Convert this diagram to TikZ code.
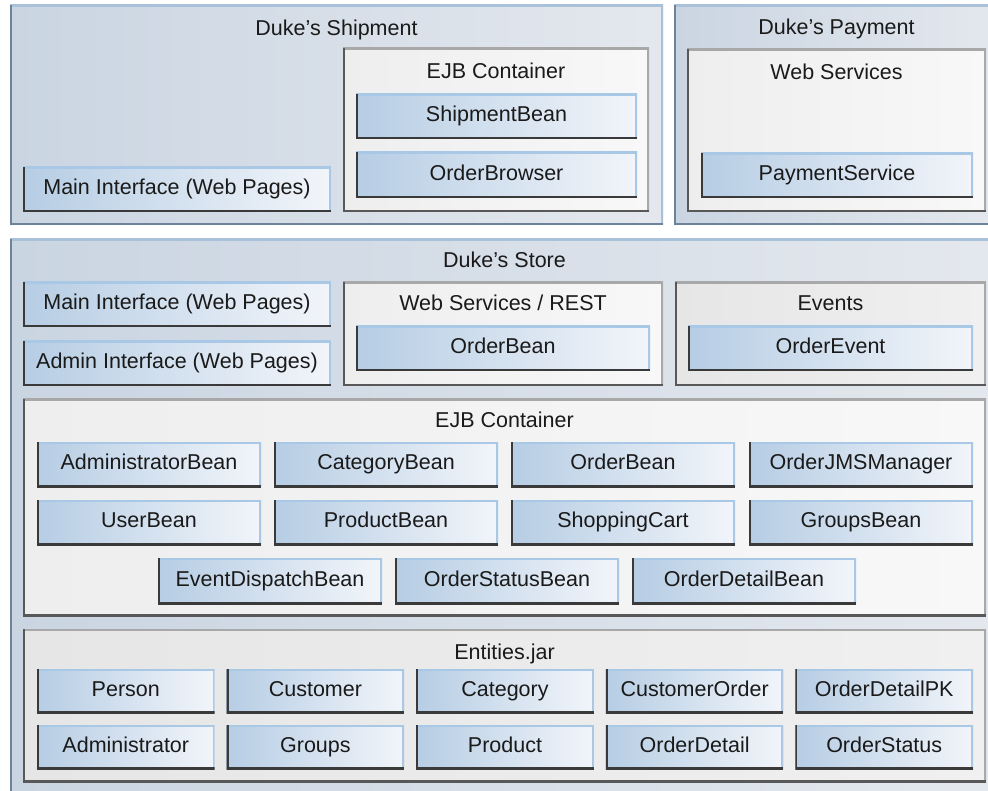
\documentclass[tikz,border=0pt]{standalone}
\usepackage{fontspec}
\setmainfont{Liberation Sans}
\definecolor{panelL}{HTML}{CAD5E2}
\definecolor{panelR}{HTML}{E4E8EE}
\definecolor{panelLt}{HTML}{A9C1D9}
\definecolor{panelDk}{HTML}{6E829C}
\definecolor{contL}{HTML}{EEEEEE}
\definecolor{contR}{HTML}{F8F8F8}
\definecolor{contGL}{HTML}{E6E6E6}
\definecolor{contGR}{HTML}{F0F0F0}
\definecolor{contLt}{HTML}{A8A8A8}
\definecolor{contDk}{HTML}{585858}
\definecolor{beanL}{HTML}{B6CDE4}
\definecolor{beanR}{HTML}{F2F5FA}
\definecolor{beanLt}{HTML}{A8C8E6}
\definecolor{beanDk}{HTML}{3A3A3A}
\definecolor{txt}{HTML}{1A1A1A}
\tikzset{
  bevel/.style 2 args={path picture={
    \draw[#1,line width=4pt] (path picture bounding box.north west) -- (path picture bounding box.north east) -- (path picture bounding box.south east);
    \draw[#2,line width=4pt] (path picture bounding box.north west) -- (path picture bounding box.south west) -- (path picture bounding box.south east);
  }},
  basebox/.style={rectangle,inner sep=0pt,outer sep=0pt,text=txt,
    font=\fontsize{21.5}{25}\selectfont,text height=15.5pt,text depth=5pt},
  panelbox/.style={basebox,left color=panelL,right color=panelR,bevel={panelLt}{panelDk}},
  contbox/.style={basebox,left color=contL,right color=contR,bevel={contLt}{contDk}},
  contgbox/.style={basebox,left color=contGL,right color=contGR,bevel={contLt}{contDk}},
  beanbox/.style={basebox,left color=beanL,right color=beanR,bevel={beanLt}{beanDk}},
  lbltext/.style={inner sep=0pt,text=txt,font=\fontsize{21.5}{25}\selectfont}
}
\newcommand\bx[7]{\node[#2,anchor=north west,minimum width=#5pt,minimum height=#6pt] (#1) at (#3pt,-#4pt) {#7};}
\newcommand\lbl[4]{\node[lbltext,anchor=base] (#1) at (#2pt,-#3pt) {#4};}
\begin{document}
\begin{tikzpicture}
\fill[white] (0,0) rectangle (988pt,-791pt);
\clip (0,0) rectangle (988pt,-791pt);
% Duke's Shipment
\bx{ship}{panelbox}{10}{5}{653}{220}{}
\lbl{shipl}{336.5}{36}{Duke’s Shipment}
\bx{shipejb}{contbox}{343}{48}{306}{164}{}
\lbl{shipejbl}{496}{79}{EJB Container}
\bx{shipbean}{beanbox}{356}{94}{281}{45}{ShipmentBean}
\bx{orderbrowser}{beanbox}{356}{152}{281}{46}{OrderBrowser}
\bx{shipmain}{beanbox}{23}{167}{308}{45}{Main Interface (Web Pages)}
% Duke's Payment
\bx{pay}{panelbox}{674}{5}{325}{220}{}
\lbl{payl}{836.5}{35}{Duke’s Payment}
\bx{payws}{contbox}{687}{49}{299}{163}{}
\lbl{paywsl}{836.5}{80}{Web Services}
\bx{paysvc}{beanbox}{701}{153}{272}{45}{PaymentService}
% Duke's Store
\bx{store}{panelbox}{10}{239}{989}{560}{}
\lbl{storel}{504.5}{268}{Duke’s Store}
\bx{storemain}{beanbox}{23}{282}{308}{45}{Main Interface (Web Pages)}
\bx{storeadmin}{beanbox}{23}{341}{308}{45}{Admin Interface (Web Pages)}
\bx{rest}{contbox}{343}{282}{320}{104}{}
\lbl{restl}{503}{311}{Web Services / REST}
\bx{restorder}{beanbox}{356}{326}{294}{45}{OrderBean}
\bx{events}{contgbox}{675}{282}{311}{104}{}
\lbl{eventsl}{830.5}{311}{Events}
\bx{orderevent}{beanbox}{688}{326}{285}{45}{OrderEvent}
% EJB container
\bx{ejb}{contbox}{23}{399}{963}{217}{}
\lbl{ejbl}{504.5}{428}{EJB Container}
\bx{adminbean}{beanbox}{37}{442}{224}{45}{AdministratorBean}
\bx{catbean}{beanbox}{274}{442}{224}{45}{CategoryBean}
\bx{orderbean}{beanbox}{511}{442}{224}{45}{OrderBean}
\bx{jms}{beanbox}{749}{442}{224}{45}{OrderJMSManager}
\bx{userbean}{beanbox}{37}{500}{224}{45}{UserBean}
\bx{prodbean}{beanbox}{274}{500}{224}{45}{ProductBean}
\bx{cart}{beanbox}{511}{500}{224}{45}{ShoppingCart}
\bx{groupsbean}{beanbox}{749}{500}{224}{45}{GroupsBean}
\bx{eventbean}{beanbox}{158}{558}{224}{46}{EventDispatchBean}
\bx{statusbean}{beanbox}{395}{558}{224}{46}{OrderStatusBean}
\bx{detailbean}{beanbox}{632}{558}{224}{46}{OrderDetailBean}
% Entities
\bx{ent}{contgbox}{23}{629}{963}{153}{}
\lbl{entl}{504.5}{659}{Entities.jar}
\bx{person}{beanbox}{37}{669}{177.6}{44}{Person}
\bx{customer}{beanbox}{226.6}{669}{177.6}{44}{Customer}
\bx{category}{beanbox}{416.2}{669}{177.6}{44}{Category}
\bx{custorder}{beanbox}{605.8}{669}{177.6}{44}{CustomerOrder}
\bx{detailpk}{beanbox}{795.4}{669}{177.6}{44}{OrderDetailPK}
\bx{admin}{beanbox}{37}{725}{177.6}{44}{Administrator}
\bx{groups}{beanbox}{226.6}{725}{177.6}{44}{Groups}
\bx{product}{beanbox}{416.2}{725}{177.6}{44}{Product}
\bx{detail}{beanbox}{605.8}{725}{177.6}{44}{OrderDetail}
\bx{status}{beanbox}{795.4}{725}{177.6}{44}{OrderStatus}
\end{tikzpicture}
\end{document}
